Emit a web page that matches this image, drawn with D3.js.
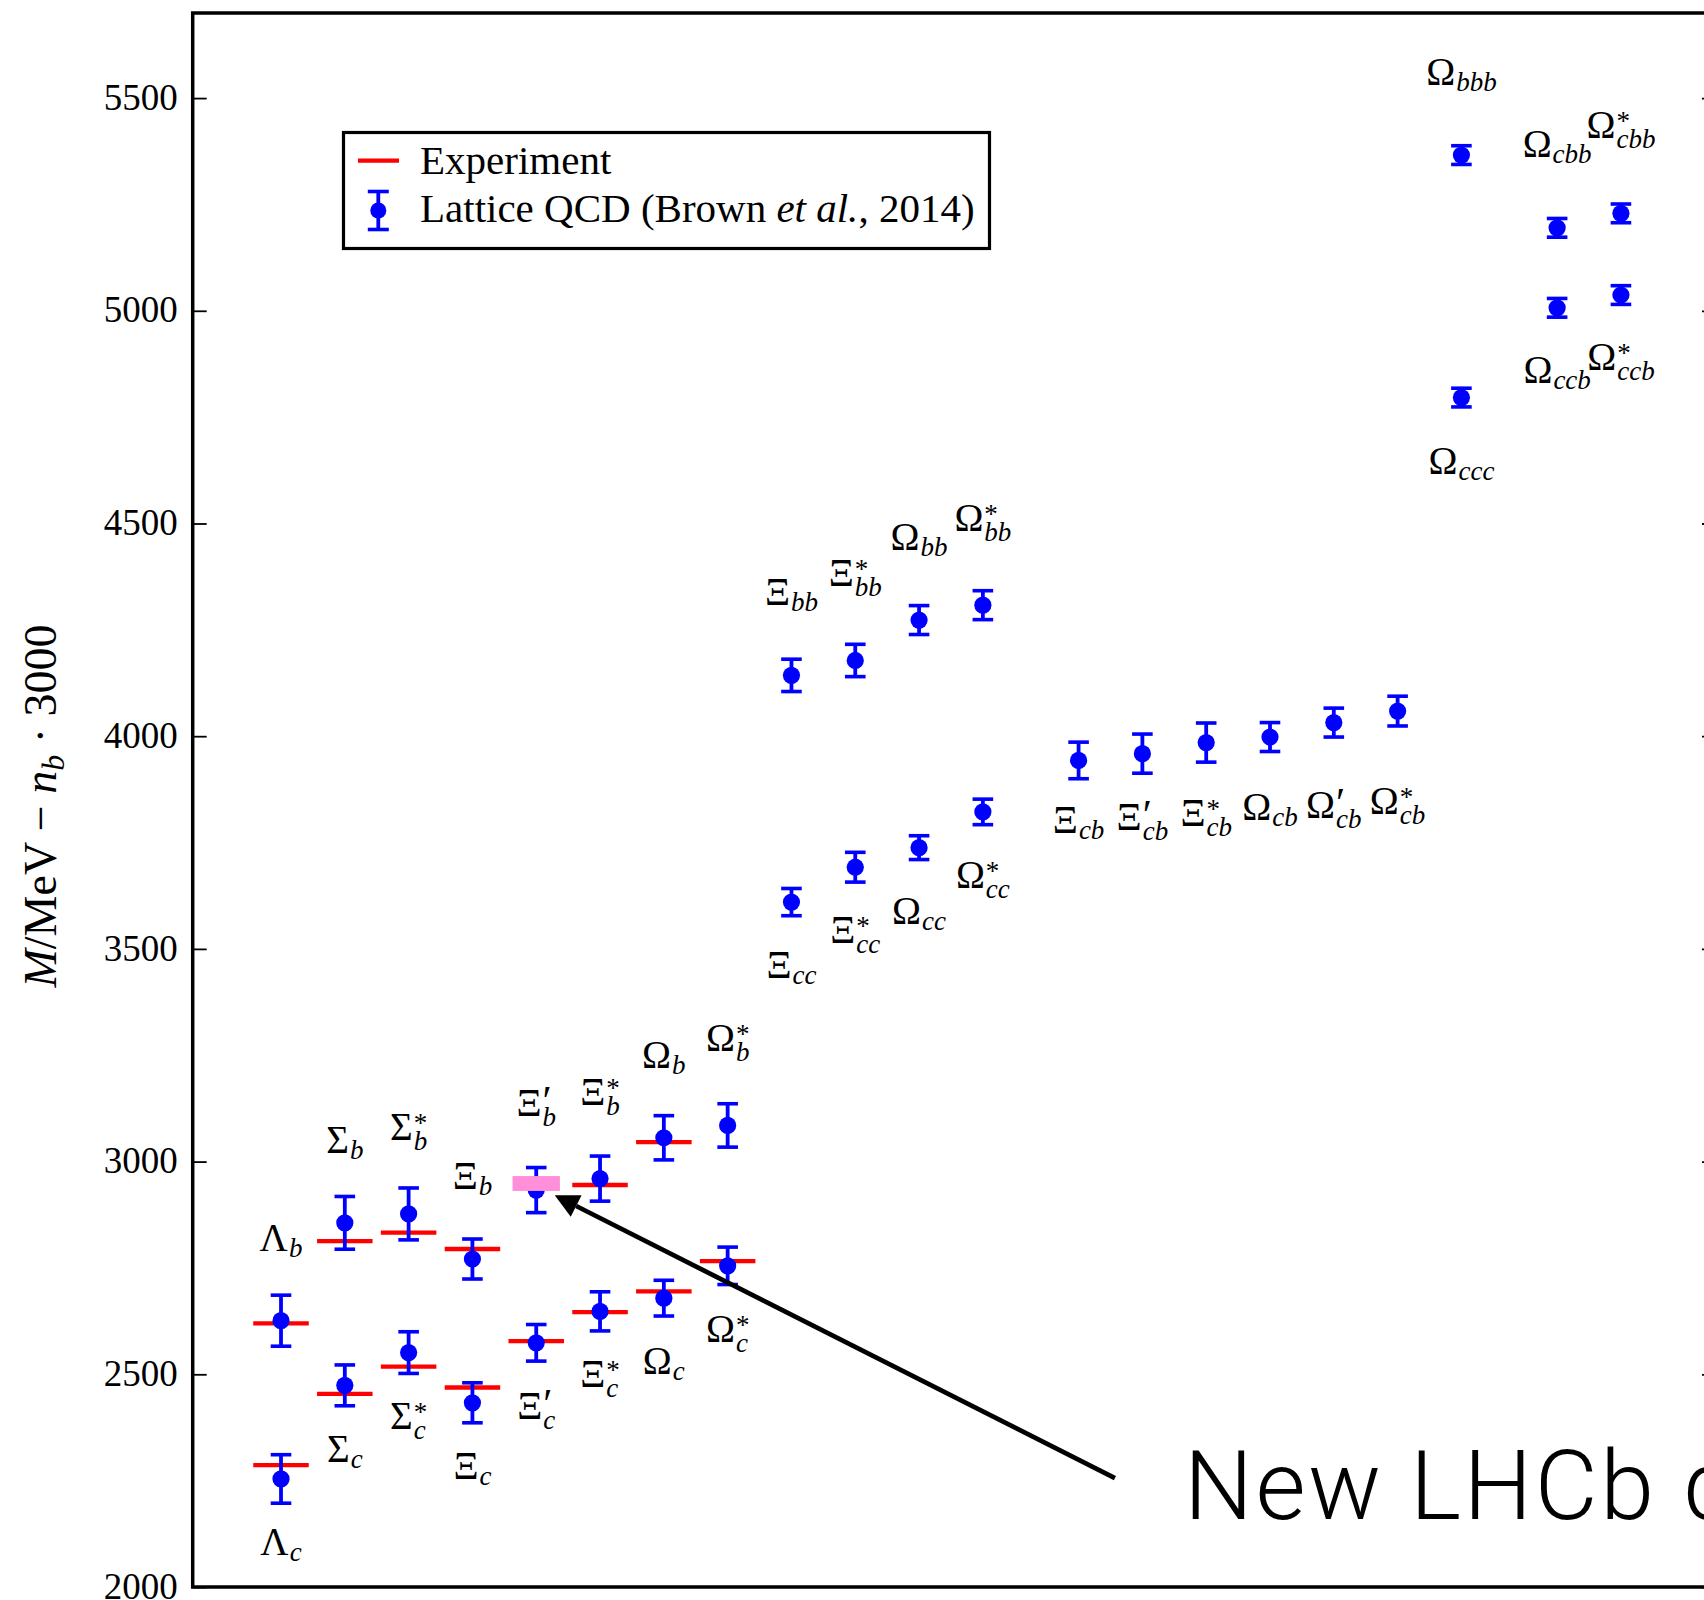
<!DOCTYPE html>
<html>
<head>
<meta charset="utf-8">
<script src="https://cdn.jsdelivr.net/npm/d3@7"></script>
<style>
  body { margin: 0; background: #fff; }
  svg { display: block; }
  text { font-family: "Liberation Serif", "Times New Roman", serif; fill: #000; }
</style>
</head>
<body>
<svg id="chart" width="1704" height="1600"></svg>
<script>
// Baryon masses (MeV), shifted down by n_b * 3000 so all families fit one axis.
// Columns: singly heavy (1-8), doubly heavy cc/bb (9-12), cb (13.5-18.5), triply heavy.
const slot = [1,2,3,4,5,6,7,8, 1,2,3,4,5,6,7,8, 9,10,11,12, 9,10,11,12,
              13.5,14.5,15.5,16.5,17.5,18.5, 19.5,21,22,21,22,19.5];
const baseGlyph = ["Λ","Σ","Σ","Ξ","Ξ","Ξ","Ω","Ω", "Λ","Σ","Σ","Ξ","Ξ","Ξ","Ω","Ω",
                   "Ξ","Ξ","Ω","Ω", "Ξ","Ξ","Ω","Ω", "Ξ","Ξ","Ξ","Ω","Ω","Ω",
                   "Ω","Ω","Ω","Ω","Ω","Ω"];
const supMark = ["","","*","","′","*","","*", "","","*","","′","*","","*",
                 "","*","","*", "","*","","*", "","′","*","","′","*",
                 "","","*","","*",""];
const flavour = ["c","c","c","c","c","c","c","c", "b","b","b","b","b","b","b","b",
                 "cc","cc","cc","cc", "bb","bb","bb","bb", "cb","cb","cb","cb","cb","cb",
                 "ccc","ccb","ccb","cbb","cbb","bbb"];
const lattice = [2254,2474,2551,2433,2574,2648,2679,2755,
                 2626,2856,2877,2771,2933,2960,3056,3085,
                 3610,3692,3738,3822, 4143,4178,4273,4308,
                 3943,3959,3985,3998,4032,4059,
                 4796,5007,5037,5195,5229,5366];
const latticeErr = [57,48,49,47,43,46,42,44,
                    60,62,61,47,53,53,52,51,
                    32,35,28,30, 38,38,34,34,
                    43,46,46,34,34,35,
                    22,22,22,22,22,22];
const experiment = [2286.5,2454,2518,2469,2578,2646,2695,2766,
                    2619.5,2813,2833,2794.5,null,2945,3046,null,
                    null,null,null,null, null,null,null,null,
                    null,null,null,null,null,null,
                    null,null,null,null,null,null];
// Baseline (MeV) of each particle name
const labelBaseline = [2075,2295,2372,2254,2395,2469,2500,2576,
                       2791,3021,3051,2936,3107,3134,3221,3259,
                       3431,3513,3559,3643, 4308,4352,4438,4482,
                       3773,3780,3788,3803,3807,3816,
                       4617,4830,4860,5361,5406,5531];
// Newly observed state, highlighted in column 5 (Ξ'_b)
const newObsSlot = 5;
const newObsRange = [2931, 2966];
// Annotation arrow: [slot, MeV]
const arrowTail = [14.07, 2256];
const arrowTip = [5.29, 2921];
const yTicks = [2000, 2500, 3000, 3500, 4000, 4500, 5000, 5500];

(function draw() {
  const svg = d3.select("#chart");
  const L = 192.7, R = 1716, T = 13, B = 1587;
  const x = d3.scaleLinear().domain([-0.384, 23.49]).range([L, R]);
  const y = d3.scaleLinear().domain([2000, 5700]).range([B, T]);

  // Y axis (left) with inward ticks
  const yAxis = svg.append("g").attr("transform", `translate(${L},0)`)
    .call(d3.axisLeft(y).tickValues(yTicks).tickSize(-14).tickPadding(15).tickFormat(d3.format("d")));
  yAxis.select(".domain").remove();
  yAxis.selectAll(".tick line").attr("stroke", "#000").attr("stroke-width", 1.8);
  yAxis.selectAll(".tick text").style("font-size", "37px")
    .style("font-family", '"Liberation Serif", serif').attr("dy", "0.3em");

  // Right axis ticks
  const yAxisR = svg.append("g").attr("transform", `translate(${R},0)`)
    .call(d3.axisRight(y).tickValues(yTicks).tickSize(-14).tickFormat(""));
  yAxisR.select(".domain").remove();
  yAxisR.selectAll(".tick line").attr("stroke", "#000").attr("stroke-width", 1.8);

  // Frame
  svg.append("rect").attr("x", L).attr("y", T)
    .attr("width", R - L).attr("height", B - T)
    .attr("fill", "none").attr("stroke", "#000").attr("stroke-width", 3.5);

  // Y axis title
  const yTitle = svg.append("text")
    .attr("transform", `translate(56,${(T + B) / 2 + 6}) rotate(-90)`)
    .attr("text-anchor", "middle").style("font-size", "46px");
  yTitle.append("tspan").style("font-style", "italic").text("M");
  yTitle.append("tspan").text("/MeV − ");
  yTitle.append("tspan").style("font-style", "italic").text("n");
  yTitle.append("tspan").style("font-style", "italic").style("font-size", "32px").attr("dy", 8).text("b");
  yTitle.append("tspan").attr("dy", -8).text(" · 3000");

  const idx = d3.range(slot.length);
  const marks = svg.append("g");

  // Experimental values
  const halfBar = 0.435;
  marks.selectAll("line.exp").data(idx.filter(i => experiment[i] !== null)).join("line")
    .attr("class", "exp")
    .attr("x1", i => x(slot[i] - halfBar)).attr("x2", i => x(slot[i] + halfBar))
    .attr("y1", i => y(experiment[i])).attr("y2", i => y(experiment[i]))
    .attr("stroke", "#ff0000").attr("stroke-width", 4.3);

  // Lattice QCD points with error bars
  const capHalf = 10.3;
  const eb = marks.selectAll("g.eb").data(idx).join("g").attr("class", "eb");
  eb.append("line")
    .attr("x1", i => x(slot[i])).attr("x2", i => x(slot[i]))
    .attr("y1", i => y(lattice[i] - latticeErr[i])).attr("y2", i => y(lattice[i] + latticeErr[i]))
    .attr("stroke", "#0000ff").attr("stroke-width", 3.8);
  [-1, 1].forEach(s => {
    eb.append("line")
      .attr("x1", i => x(slot[i]) - capHalf).attr("x2", i => x(slot[i]) + capHalf)
      .attr("y1", i => y(lattice[i] + s * latticeErr[i])).attr("y2", i => y(lattice[i] + s * latticeErr[i]))
      .attr("stroke", "#0000ff").attr("stroke-width", 3.6);
  });
  eb.append("circle")
    .attr("cx", i => x(slot[i])).attr("cy", i => y(lattice[i])).attr("r", 8.6)
    .attr("fill", "#0000ff");

  // Highlight for the new observation
  svg.append("rect")
    .attr("x", x(newObsSlot - 0.371)).attr("width", x(newObsSlot + 0.371) - x(newObsSlot - 0.371))
    .attr("y", y(newObsRange[1])).attr("height", y(newObsRange[0]) - y(newObsRange[1]))
    .attr("fill", "#ff8fd8");

  // Particle names: one text each, superscript stacked over the subscript
  const labels = svg.append("g");
  idx.forEach(i => {
    const t = labels.append("text").attr("x", 0).attr("y", 0);
    t.append("tspan").style("font-size", "39px").text(baseGlyph[i]);
    const hasSup = supMark[i] !== "";
    const drop = hasSup ? 10 : 6;
    if (hasSup) {
      const isPrime = supMark[i] === "′";
      const raise = isPrime ? 1 : 8;
      const sup = t.append("tspan").attr("dx", 1).attr("dy", -raise)
        .style("font-size", isPrime ? "42px" : "27px").text(supMark[i]);
      const sw = sup.node().getComputedTextLength();
      t.append("tspan").attr("dx", -sw).attr("dy", raise + drop)
        .style("font-size", "27px").style("font-style", "italic").text(flavour[i]);
    } else {
      t.append("tspan").attr("dx", 1).attr("dy", drop)
        .style("font-size", "27px").style("font-style", "italic").text(flavour[i]);
    }
    const bb = t.node().getBBox();
    t.attr("transform", `translate(${x(slot[i]) - (bb.x + bb.width / 2)},${y(labelBaseline[i])})`);
  });

  // Annotation arrow
  const tx = x(arrowTip[0]), ty = y(arrowTip[1]);
  const sx = x(arrowTail[0]), sy = y(arrowTail[1]);
  const len = Math.hypot(tx - sx, ty - sy);
  const ux = (tx - sx) / len, uy = (ty - sy) / len;
  const headLen = 24, headHalf = 12;
  const bx = tx - ux * headLen, by = ty - uy * headLen;
  svg.append("line").attr("x1", sx).attr("y1", sy).attr("x2", bx).attr("y2", by)
    .attr("stroke", "#000").attr("stroke-width", 4.7);
  svg.append("polygon")
    .attr("points", [[tx, ty], [bx - uy * headHalf, by + ux * headHalf], [bx + uy * headHalf, by - ux * headHalf]]
      .map(p => p.join(",")).join(" "))
    .attr("fill", "#000");
  svg.append("text").attr("x", 1184).attr("y", 1519)
    .style("font-family", "Roboto, 'Open Sans', sans-serif").style("font-weight", 300)
    .style("font-size", "97px").style("letter-spacing", "2.5px").text("New LHCb discovery");

  // Legend
  const lg = svg.append("g");
  lg.append("rect").attr("x", 343.5).attr("y", 132.5).attr("width", 646).attr("height", 116)
    .attr("fill", "#fff").attr("stroke", "#000").attr("stroke-width", 3.2);
  lg.append("line").attr("x1", 358).attr("x2", 399).attr("y1", 160.7).attr("y2", 160.7)
    .attr("stroke", "#ff0000").attr("stroke-width", 4.3);
  lg.append("line").attr("x1", 378.3).attr("x2", 378.3).attr("y1", 191.5).attr("y2", 229.5)
    .attr("stroke", "#0000ff").attr("stroke-width", 3.8);
  [191.5, 229.5].forEach(v => lg.append("line").attr("x1", 367.8).attr("x2", 388.8)
    .attr("y1", v).attr("y2", v).attr("stroke", "#0000ff").attr("stroke-width", 3.6));
  lg.append("circle").attr("cx", 378.3).attr("cy", 210.5).attr("r", 8).attr("fill", "#0000ff");
  lg.append("text").attr("x", 420).attr("y", 174).style("font-size", "41px").text("Experiment");
  const lt = lg.append("text").attr("x", 420).attr("y", 222).style("font-size", "41px");
  lt.append("tspan").text("Lattice QCD (Brown ");
  lt.append("tspan").style("font-style", "italic").text("et al.");
  lt.append("tspan").text(", 2014)");
})();
</script>
</body>
</html>
